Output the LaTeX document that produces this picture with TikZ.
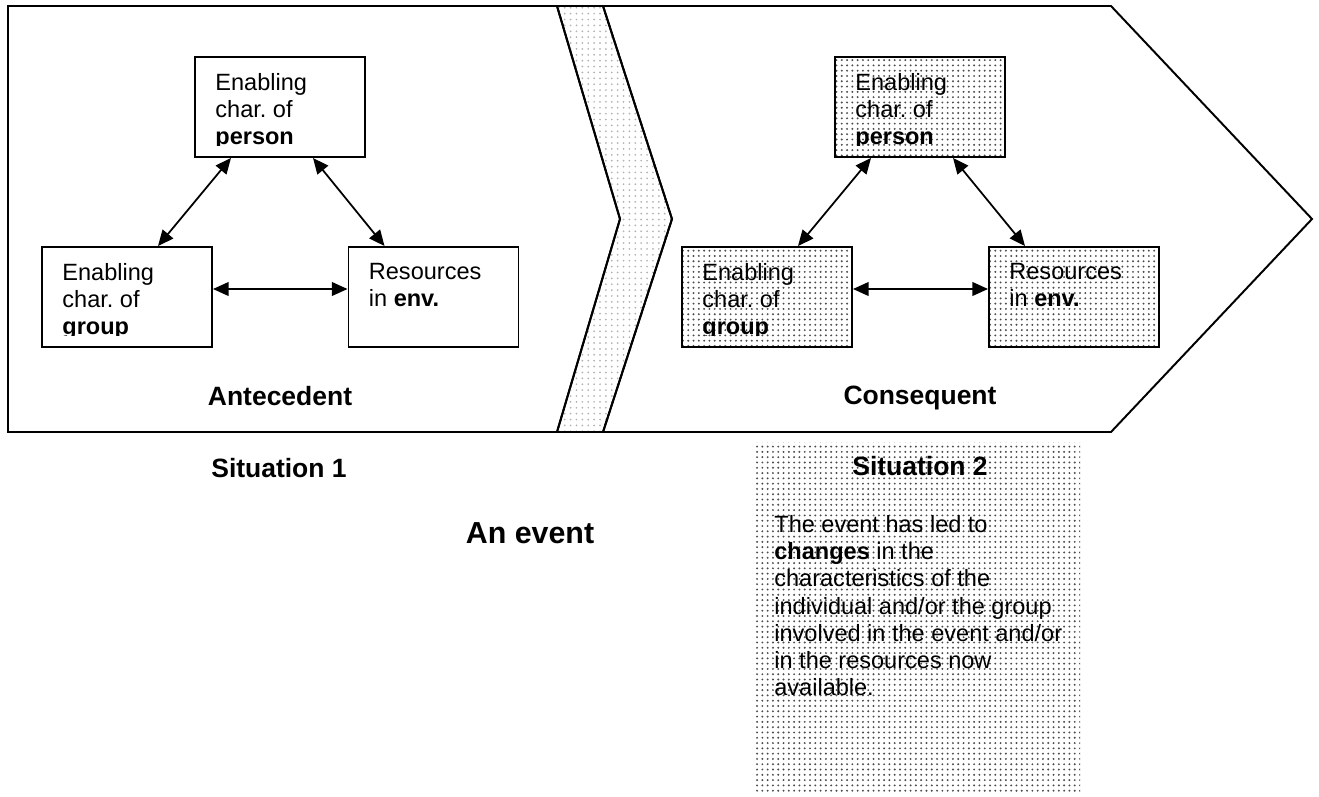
\documentclass[tikz,border=0pt]{standalone}
\usepackage{fontspec}
\setmainfont{Liberation Sans}
\usetikzlibrary{arrows.meta,patterns,calc}
\pgfdeclarepatternformonly{fine dots}{\pgfqpoint{-1pt}{-1pt}}{\pgfqpoint{1pt}{1pt}}{\pgfqpoint{2.7pt}{2.7pt}}{\pgfpathcircle{\pgfpointorigin}{0.55pt}\pgfusepath{fill}}
\tikzstyle{phase} = [draw, line width=1pt, line join=miter]
\tikzstyle{gap} = [draw, line width=1pt, pattern=dots, pattern color=black!30]
\tikzstyle{block} = [rectangle, draw, line width=1pt, minimum width=86.7pt, minimum height=51pt, inner sep=0pt]
\tikzstyle{changed} = [block, pattern=fine dots, pattern color=black!70]
\tikzstyle{blocktext} = [anchor=north west, inner sep=0pt, align=left, font=\fontsize{12pt}{13.9pt}\selectfont]
\tikzstyle{heading} = [anchor=base, inner sep=0pt, font=\bfseries\fontsize{13.5pt}{15pt}\selectfont]
\tikzstyle{link} = [draw, line width=0.9pt, {Triangle[length=8pt,width=7pt]}-{Triangle[length=8pt,width=7pt]}]
\newcommand{\boxlines}[2]{%
  \begin{scope}
    \clip (#1.north west) rectangle ($(#1.south east)+(0,-12)$);
    \node [blocktext] (#1text) at ($(#1.north west)+(21,17)$) {#2};
  \end{scope}}

\begin{document}
\frenchspacing
\begin{tikzpicture}[x=0.51pt, y=-0.51pt]
\useasboundingbox (0,0) rectangle (1319,796);
\path [phase] (8,6) -- (557,6) -- (620,219) -- (557,432) -- (8,432) -- cycle;
\path [gap] (557,6) -- (603,6) -- (672,219) -- (603,432) -- (557,432) -- (620,219) -- cycle;
\path [phase] (603,6) -- (1111,6) -- (1312,219) -- (1111,432) -- (603,432) -- (672,219) -- cycle;

\node [block] (person1) at (280,107) {};
\node [block] (group1) at (127,297) {};
\node [block] (env1) at (433.5,297) {};
\node [changed] (person2) at (920,107) {};
\node [changed] (group2) at (767,297) {};
\node [changed] (env2) at (1074,297) {};
\boxlines{person1}{Enabling\\char. of\\\textbf{person}}
\boxlines{group1}{Enabling\\char. of\\\textbf{group}}
\boxlines{env1}{Resources\\in \textbf{env.}}
\boxlines{person2}{Enabling\\char. of\\\textbf{person}}
\boxlines{group2}{Enabling\\char. of\\\textbf{group}}
\boxlines{env2}{Resources\\in \textbf{env.}}

\path [link] ($(person1.south)+(-49,0)$) -- ($(group1.north)+(31,0)$);
\path [link] ($(person1.south)+(33,0)$) -- ($(env1.north)+(-49,0)$);
\path [link] ($(group1.east)+(0,-8)$) -- ($(env1.west)+(0,-8)$);
\path [link] ($(person2.south)+(-49,0)$) -- ($(group2.north)+(31,0)$);
\path [link] ($(person2.south)+(33,0)$) -- ($(env2.north)+(-49,0)$);
\path [link] ($(group2.east)+(0,-8)$) -- ($(env2.west)+(0,-8)$);

\node [heading] (antecedent) at (280,405) {Antecedent};
\node [heading] (consequent) at (920,404) {Consequent};
\node [heading] (situation1) at (279,477) {Situation 1};
\node [rectangle, pattern=fine dots, pattern color=black!70, minimum width=166.8pt, minimum height=178.5pt, inner sep=0pt] (situation2) at (916.5,617) {};
\node [heading] (situation2title) at (920,475) {Situation 2};
\node [blocktext] (situation2text) at (774,515) {The event has led to\\\textbf{changes} in the\\characteristics of the\\individual and/or the group\\involved in the event and/or\\in the resources now\\available.};
\node [heading, font=\bfseries\fontsize{15.5pt}{18pt}\selectfont] (event) at (530,543) {An event};
\end{tikzpicture}
\end{document}
